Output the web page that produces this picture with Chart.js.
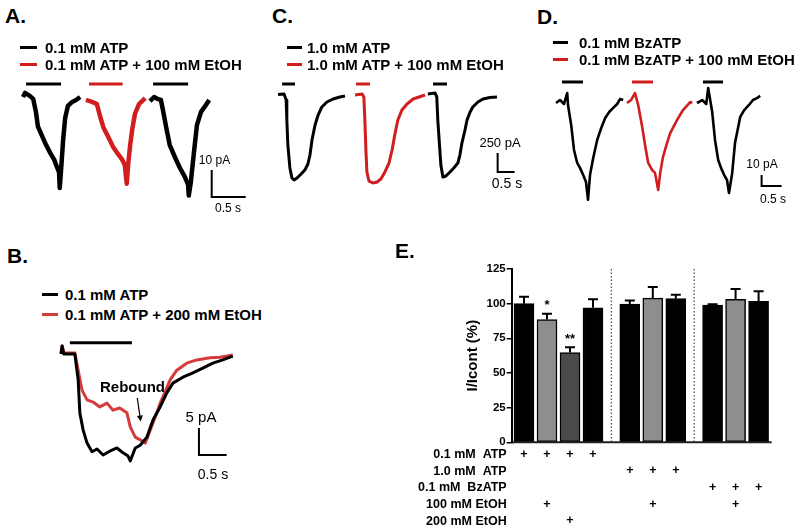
<!DOCTYPE html>
<html>
<head>
<meta charset="utf-8">
<script src="https://cdn.jsdelivr.net/npm/chart.js@4.4.1/dist/chart.umd.min.js"></script>
<style>
  body { margin: 0; background: #fff; }
  #fig { position: relative; width: 800px; height: 530px; overflow: hidden; background: #fff;
         font-family: "Liberation Sans", Arial, sans-serif; color: #000; }
  #fig canvas { position: absolute; }
  .t { position: absolute; white-space: pre; line-height: 1; }
  .seg { position: absolute; height: 3px; }
</style>
</head>
<body>
<div id="fig"></div>
<script>
// ---- Panel A: 0.1 mM ATP / + 100 mM EtOH / washout (time s, current pA)
const aT1 = [0, 0.03, 0.10, 0.15, 0.19, 0.22, 0.28, 0.34, 0.40, 0.46, 0.50, 0.53, 0.54, 0.56, 0.59, 0.62, 0.66, 0.72, 0.78, 0.84];
const aI1 = [0, 1.5, 0.4, -0.7, -5.5, -11, -14.4, -17.8, -20.7, -23.3, -26, -27.8, -33.7, -27, -16, -7.8, -3.3, -1.9, -1.1, 0];
const aT2 = [0, 0.09, 0.16, 0.21, 0.26, 0.32, 0.40, 0.47, 0.53, 0.57, 0.60, 0.62, 0.65, 0.68, 0.72, 0.78, 0.87];
const aI2 = [0, -0.7, -1.5, -6.3, -10.4, -13.3, -17.4, -20, -22, -24, -31, -24, -16.7, -11, -5.2, -1.5, 0.7];
const aT3 = [0, 0.06, 0.12, 0.16, 0.19, 0.24, 0.29, 0.37, 0.44, 0.51, 0.56, 0.57, 0.60, 0.65, 0.69, 0.75, 0.81, 0.87];
const aI3 = [0, 1.5, 0.7, 0.4, -3.3, -10, -16.3, -21, -24.8, -28, -31, -35, -30, -18, -8.9, -4, -1.9, 0.4];
const aPuffs = [[0.045, 0.56], [0.045, 0.54], [0.045, 0.56]];

// ---- Panel C: 1.0 mM ATP
const cT1 = [0, 0.18, 0.24, 0.26, 0.29, 0.35, 0.41, 0.47, 0.56, 0.68, 0.79, 0.88, 0.94, 1.0, 1.09, 1.18, 1.29, 1.44, 1.62, 1.82, 1.97];
const cI1 = [0, 5, -72, -336, -664, -967, -1099, -1125, -1099, -1046, -993, -914, -796, -599, -401, -270, -164, -99, -59, -33, -20];
const cT2 = [0, 0.21, 0.26, 0.29, 0.32, 0.35, 0.41, 0.53, 0.65, 0.76, 0.88, 1.0, 1.09, 1.18, 1.26, 1.38, 1.53, 1.71, 1.97, 2.06];
const cI2 = [0, 13, -26, -329, -724, -1013, -1132, -1158, -1145, -1105, -1013, -895, -724, -500, -329, -197, -118, -53, -13, 0];
const cT3 = [0, 0.21, 0.26, 0.29, 0.35, 0.38, 0.44, 0.53, 0.65, 0.76, 0.88, 0.94, 1.0, 1.09, 1.15, 1.24, 1.32, 1.47, 1.62, 1.82, 2.03];
const cI3 = [0, 13, -39, -342, -737, -934, -1092, -1079, -1026, -974, -908, -803, -645, -474, -342, -237, -171, -105, -66, -46, -39];
const cPuffs = [[0.12, 0.5], [0.03, 0.44], [0.15, 0.56]];

// ---- Panel D: 0.1 mM BzATP
const dT1 = [0, 0.1, 0.2, 0.28, 0.3, 0.38, 0.45, 0.53, 0.6, 0.68, 0.75, 0.8, 0.85, 0.93, 1.03, 1.13, 1.23, 1.33, 1.43, 1.53, 1.6, 1.68];
const dI1 = [0, 2.7, -0.9, 9, -1.8, -20, -42.7, -54.5, -59, -65.5, -71.8, -88, -65.5, -50, -33.6, -22.7, -13.6, -8.2, -4.5, -0.9, 3.6, 2.7];
const dT2 = [0, 0.1, 0.2, 0.28, 0.38, 0.45, 0.53, 0.63, 0.7, 0.78, 0.83, 0.9, 1.0, 1.08, 1.25, 1.4, 1.58, 1.63];
const dI2 = [0, 2.7, 9, -1.8, -21.8, -38, -54.5, -61, -63.6, -79, -63.6, -49, -36.4, -27.3, -15.5, -6.4, 0.9, 0];
const dT3 = [0, 0.13, 0.23, 0.28, 0.33, 0.38, 0.45, 0.53, 0.6, 0.68, 0.75, 0.8, 0.88, 0.95, 1.08, 1.18, 1.3, 1.4, 1.5, 1.58];
const dI3 = [0, 2.7, -0.9, 13.6, 2.7, -8.2, -33.6, -51.8, -59, -65.5, -70, -81.8, -63.6, -36.4, -12.7, -6.4, -1.8, 2.7, 4.5, 6.4];
const dPuffs = [[0.15, 0.675], [0.125, 0.65], [0.15, 0.65]];

// ---- Panel B: 0.1 mM ATP vs + 200 mM EtOH (overlaid)
const bT1 = [0, 0.02, 0.05, 0.25, 0.31, 0.34, 0.4, 0.47, 0.56, 0.65, 0.76, 0.88, 1.01, 1.12, 1.21, 1.25, 1.34, 1.43, 1.55, 1.66, 1.79, 1.91, 2.02, 2.2, 2.38, 2.56, 2.74, 2.92, 3.1];
const bI1 = [0, 1.5, 0, 0, -4.8, -10.9, -14.1, -16.5, -18.1, -17.6, -18.7, -18, -17.4, -18.3, -18.9, -19.8, -17.4, -16.9, -15.4, -12.2, -9.8, -7.2, -5.4, -4.3, -3.5, -2.6, -1.7, -1.1, -0.4];
const bT2 = [0, 0.02, 0.05, 0.25, 0.31, 0.38, 0.47, 0.58, 0.7, 0.83, 0.94, 1.06, 1.19, 1.25, 1.34, 1.43, 1.52, 1.61, 1.7, 1.79, 1.88, 1.97, 2.09, 2.27, 2.45, 2.69, 2.87, 3.1];
const bI2 = [0.2, 1.5, 0.2, 0.2, -3, -6.7, -8.5, -8.9, -9.8, -9.1, -10.4, -10, -10.9, -13.5, -15.4, -15.9, -16.5, -14.1, -11.7, -9.1, -7, -4.8, -3, -1.7, -1.1, -0.7, -0.6, -0.2];
const bPuff = [0.16, 1.28];
const reboundArrow = { from: [1.377, -8.15], to: [1.439, -12.5] };

// ---- Panel E: normalized currents
const means = [100, 88.5, 64.8, 97, 99.7, 104, 103.6, 99, 103.2, 101.6];
const sems = [5, 4.3, 3.8, 6.1, 2.6, 8, 2.8, 0.5, 7.3, 7.3];
const stars = ['', '*', '**', '', '', '', '', '', '', ''];
const barGroup = [0, 0, 0, 0, 1, 1, 1, 2, 2, 2];
const yTicks = [0, 25, 50, 75, 100, 125];
const treatLabels = ['0.1 mM  ATP', '1.0 mM  ATP', '0.1 mM  BzATP', '100 mM EtOH', '200 mM EtOH'];
const atp01 = [1, 1, 1, 1, 0, 0, 0, 0, 0, 0];
const atp10 = [0, 0, 0, 0, 1, 1, 1, 0, 0, 0];
const bzatp01 = [0, 0, 0, 0, 0, 0, 0, 1, 1, 1];
const etoh100 = [0, 1, 0, 0, 0, 1, 0, 0, 1, 0];
const etoh200 = [0, 0, 1, 0, 0, 0, 0, 0, 0, 0];
const treatFlags = [atp01, atp10, bzatp01, etoh100, etoh200];

const FONT = '"Liberation Sans", Arial, sans-serif';
const RED = '#d11d1d';
Chart.defaults.font.family = FONT;

const fig = document.getElementById('fig');

function addText(txt, x, capY, size, bold, align) {
    const d = document.createElement('div');
    d.className = 't';
    d.textContent = txt;
    d.style.fontSize = size + 'px';
    d.style.fontWeight = bold ? 'bold' : 'normal';
    d.style.top = (capY - 0.49 * size) + 'px';
    d.style.left = x + 'px';
    if (align === 'center') d.style.transform = 'translateX(-50%)';
    fig.appendChild(d);
}

function addSeg(x1, x2, y, color) {
    const d = document.createElement('div');
    d.className = 'seg';
    d.style.left = x1 + 'px';
    d.style.width = (x2 - x1) + 'px';
    d.style.top = (y - 1.5) + 'px';
    d.style.background = color;
    fig.appendChild(d);
}

function makeCanvas(box) {
    const c = document.createElement('canvas');
    c.width = box.width;
    c.height = box.height;
    c.style.left = box.left + 'px';
    c.style.top = box.top + 'px';
    fig.appendChild(c);
    return c;
}

// trace panel: map puts t=0/I=0 of the first sweep at pixel (x0, y0)
function tracePanel(p) {
    const box = p.box, map = p.map;
    const ds = [];
    p.sweeps.forEach((s, k) => {
        const shift = p.shifts ? p.shifts[k] : 0;
        ds.push({
            data: s.t.map((t, j) => ({ x: t + p.offsets[k], y: s.i[j] + shift })),
            borderColor: s.color, borderWidth: p.lw, borderJoinStyle: 'round'
        });
        const pf = p.puffs[k];
        if (pf) {
            ds.push({
                data: [{ x: pf[0] + p.offsets[k], y: p.puffLevel }, { x: pf[1] + p.offsets[k], y: p.puffLevel }],
                borderColor: s.color, borderWidth: 3
            });
        }
    });
    const sb = p.scaleBar;
    ds.push({
        data: [{ x: sb.t, y: sb.i + sb.amp }, { x: sb.t, y: sb.i }, { x: sb.t + sb.dur, y: sb.i }],
        borderColor: '#000', borderWidth: 2, borderJoinStyle: 'miter'
    });
    ds.forEach(d => { d.clip = false; d.pointRadius = 0; d.tension = 0; d.fill = false; });

    return new Chart(makeCanvas(box), {
        type: 'line',
        data: { datasets: ds },
        options: {
            responsive: false,
            animation: false,
            events: [],
            layout: { padding: 0 },
            plugins: { legend: { display: false }, tooltip: { enabled: false } },
            scales: {
                x: { type: 'linear', display: false,
                     min: (box.left - map.x0) / map.sx, max: (box.left + box.width - map.x0) / map.sx },
                y: { type: 'linear', display: false,
                     min: -(box.top + box.height - map.y0) / map.sy, max: (map.y0 - box.top) / map.sy }
            }
        },
        plugins: p.plugins || []
    });
}

// ---------- Panel A
tracePanel({
    box: { left: 10, top: 70, width: 255, height: 140 },
    map: { x0: 23, y0: 97, sx: 68, sy: 2.7 },
    offsets: [0, 0.926, 1.868], shifts: [0, -1.1, -1.5], lw: 4.5,
    sweeps: [{ t: aT1, i: aI1, color: '#000' }, { t: aT2, i: aI2, color: RED }, { t: aT3, i: aI3, color: '#000' }],
    puffs: aPuffs, puffLevel: 4.8,
    scaleBar: { t: 2.775, i: -37, amp: 10, dur: 0.5 }
});
addText('A.', 5, 15.5, 21, true);
addSeg(20, 37, 47, '#000');
addText('0.1 mM ATP', 45, 47, 15, true);
addSeg(20, 37, 64, RED);
addText('0.1 mM ATP + 100 mM EtOH', 45, 64, 15, true);
addText('10 pA', 214.5, 159.5, 12, false, 'center');
addText('0.5 s', 228, 208, 12, false, 'center');

// ---------- Panel C
tracePanel({
    box: { left: 272, top: 70, width: 255, height: 125 },
    map: { x0: 278, y0: 94.5, sx: 34, sy: 0.076 },
    offsets: [0, 2.265, 4.41], shifts: [0, -6.6, 6.6], lw: 3,
    sweeps: [{ t: cT1, i: cI1, color: '#000' }, { t: cT2, i: cI2, color: RED }, { t: cT3, i: cI3, color: '#000' }],
    puffs: cPuffs, puffLevel: 138,
    scaleBar: { t: 6.46, i: -1020, amp: 250, dur: 0.5 }
});
addText('C.', 272, 15.5, 21, true);
addSeg(287, 302, 47, '#000');
addText('1.0 mM ATP', 307, 47, 15, true);
addSeg(287, 302, 64, RED);
addText('1.0 mM ATP + 100 mM EtOH', 307, 64, 15, true);
addText('250 pA', 500, 142, 13, false, 'center');
addText('0.5 s', 507, 182.5, 14, false, 'center');

// ---------- Panel D
tracePanel({
    box: { left: 545, top: 70, width: 250, height: 140 },
    map: { x0: 556, y0: 103, sx: 40, sy: 1.1 },
    offsets: [0, 1.775, 3.525], lw: 2.6,
    sweeps: [{ t: dT1, i: dI1, color: '#000' }, { t: dT2, i: dI2, color: RED }, { t: dT3, i: dI3, color: '#000' }],
    puffs: dPuffs, puffLevel: 19.1,
    scaleBar: { t: 5.14, i: -75.5, amp: 10, dur: 0.5 }
});
addText('D.', 537, 16.5, 21, true);
addSeg(553, 568, 42, '#000');
addText('0.1 mM BzATP', 579, 42, 15, true);
addSeg(553, 568, 59, RED);
addText('0.1 mM BzATP + 100 mM EtOH', 579, 59, 15, true);
addText('10 pA', 762, 164, 12, false, 'center');
addText('0.5 s', 773, 199, 12, false, 'center');

// ---------- Panel B
const arrowPlugin = {
    id: 'reboundArrow',
    afterDatasetsDraw(chart) {
        const { ctx, scales: { x, y } } = chart;
        const x1 = x.getPixelForValue(reboundArrow.from[0]), y1 = y.getPixelForValue(reboundArrow.from[1]);
        const x2 = x.getPixelForValue(reboundArrow.to[0]), y2 = y.getPixelForValue(reboundArrow.to[1]);
        const ang = Math.atan2(y2 - y1, x2 - x1);
        ctx.save();
        ctx.strokeStyle = '#000';
        ctx.fillStyle = '#000';
        ctx.lineWidth = 1.2;
        ctx.beginPath();
        ctx.moveTo(x1, y1);
        ctx.lineTo(x2 - 4 * Math.cos(ang), y2 - 4 * Math.sin(ang));
        ctx.stroke();
        ctx.beginPath();
        ctx.moveTo(x2, y2);
        ctx.lineTo(x2 - 6 * Math.cos(ang) + 3 * Math.sin(ang), y2 - 6 * Math.sin(ang) - 3 * Math.cos(ang));
        ctx.lineTo(x2 - 6 * Math.cos(ang) - 3 * Math.sin(ang), y2 - 6 * Math.sin(ang) + 3 * Math.cos(ang));
        ctx.closePath();
        ctx.fill();
        ctx.restore();
    }
};
tracePanel({
    box: { left: 50, top: 330, width: 200, height: 140 },
    map: { x0: 61, y0: 354, sx: 55.4, sy: 5.4 },
    offsets: [0, 0], lw: 3,
    sweeps: [{ t: bT1, i: bI1, color: '#000' }, { t: bT2, i: bI2, color: '#d43b3b' }],
    puffs: [bPuff], puffLevel: 2.1,
    scaleBar: { t: 2.49, i: -18.7, amp: 5, dur: 0.5 },
    plugins: [arrowPlugin]
});
addText('B.', 7, 255.5, 21, true);
addSeg(42, 58, 294, '#000');
addText('0.1 mM ATP', 65, 294, 15, true);
addSeg(42, 58, 314, '#d43b3b');
addText('0.1 mM ATP + 200 mM EtOH', 65, 314, 15, true);
addText('Rebound', 100, 386.5, 15, true);
addText('5 pA', 201, 416, 15, false, 'center');
addText('0.5 s', 213, 473.5, 14, false, 'center');

// ---------- Panel E
const barPos = means.map((m, i) => i + 0.6 * barGroup[i]);
const barFill = ['#000', '#8e8e8e', '#4b4b4b', '#000', '#000', '#8e8e8e', '#000', '#000', '#8e8e8e', '#000'];
const groupBreaks = [];
for (let i = 1; i < barPos.length; i++) {
    if (barGroup[i] !== barGroup[i - 1]) groupBreaks.push((barPos[i] + barPos[i - 1]) / 2);
}

const ePlugin = {
    id: 'eExtras',
    beforeDatasetsDraw(chart) {
        const { ctx, chartArea: a, scales: { x, y } } = chart;
        ctx.save();
        ctx.strokeStyle = '#555';
        ctx.lineWidth = 1.3;
        ctx.setLineDash([1.5, 2]);
        groupBreaks.forEach(v => {
            const px = x.getPixelForValue(v);
            ctx.beginPath();
            ctx.moveTo(px, y.getPixelForValue(125));
            ctx.lineTo(px, a.bottom);
            ctx.stroke();
        });
        ctx.restore();
    },
    afterDatasetsDraw(chart) {
        const { ctx, chartArea: a, scales: { x, y } } = chart;
        ctx.save();
        // baseline
        ctx.strokeStyle = '#222';
        ctx.lineWidth = 2;
        ctx.beginPath();
        ctx.moveTo(a.left, a.bottom);
        ctx.lineTo(a.right, a.bottom);
        ctx.stroke();
        // error bars (upper only) + significance
        ctx.strokeStyle = '#000';
        ctx.fillStyle = '#000';
        means.forEach((m, i) => {
            const px = x.getPixelForValue(barPos[i]);
            const y0 = y.getPixelForValue(m), y1 = y.getPixelForValue(m + sems[i]);
            ctx.beginPath();
            ctx.moveTo(px, y0);
            ctx.lineTo(px, y1);
            ctx.moveTo(px - 5, y1);
            ctx.lineTo(px + 5, y1);
            ctx.stroke();
            if (stars[i]) {
                ctx.font = 'bold 13px ' + FONT;
                ctx.textAlign = 'center';
                ctx.textBaseline = 'alphabetic';
                ctx.fillText(stars[i], px, y1 - 4.5);
            }
        });
        // treatment table
        ctx.font = 'bold 12.5px ' + FONT;
        ctx.textBaseline = 'alphabetic';
        treatLabels.forEach((lab, r) => {
            const ry = a.bottom + 11 + r * 16.7;
            ctx.textAlign = 'right';
            ctx.fillText(lab, a.left - 5, ry + 4.5);
            ctx.textAlign = 'center';
            treatFlags[r].forEach((f, i) => {
                if (f) ctx.fillText('+', x.getPixelForValue(barPos[i]), ry + 4.2);
            });
        });
        ctx.restore();
    }
};

new Chart(makeCanvas({ left: 400, top: 240, width: 400, height: 290 }), {
    type: 'bar',
    data: {
        datasets: [{
            data: means.map((m, i) => ({ x: barPos[i], y: m })),
            backgroundColor: barFill,
            borderColor: '#000',
            borderWidth: 1.5,
            borderSkipped: false,
            barThickness: 20
        }]
    },
    options: {
        responsive: false,
        animation: false,
        events: [],
        layout: { padding: { top: 29, right: 28.3, bottom: 87.7, left: 0 } },
        plugins: { legend: { display: false }, tooltip: { enabled: false } },
        scales: {
            x: { type: 'linear', display: false, offset: false, min: barPos[0] - 0.535, max: barPos[barPos.length - 1] + 0.57 },
            y: {
                min: yTicks[0], max: yTicks[yTicks.length - 1],
                afterBuildTicks(s) { s.ticks = yTicks.map(v => ({ value: v })); },
                ticks: { padding: 1, color: '#000', font: { size: 11.5, weight: 'bold' } },
                grid: { drawOnChartArea: false, tickLength: 5, color: '#000', lineWidth: 1.5 },
                border: { color: '#000', width: 2 },
                title: { display: true, text: 'I/Icont (%)', color: '#000',
                         font: { size: 15, weight: 'bold' }, padding: { top: 64, bottom: 0 } },
                afterFit(s) { s.width = 111.7; }
            }
        }
    },
    plugins: [ePlugin]
});
addText('E.', 395, 250.5, 21, true);
</script>
</body>
</html>
